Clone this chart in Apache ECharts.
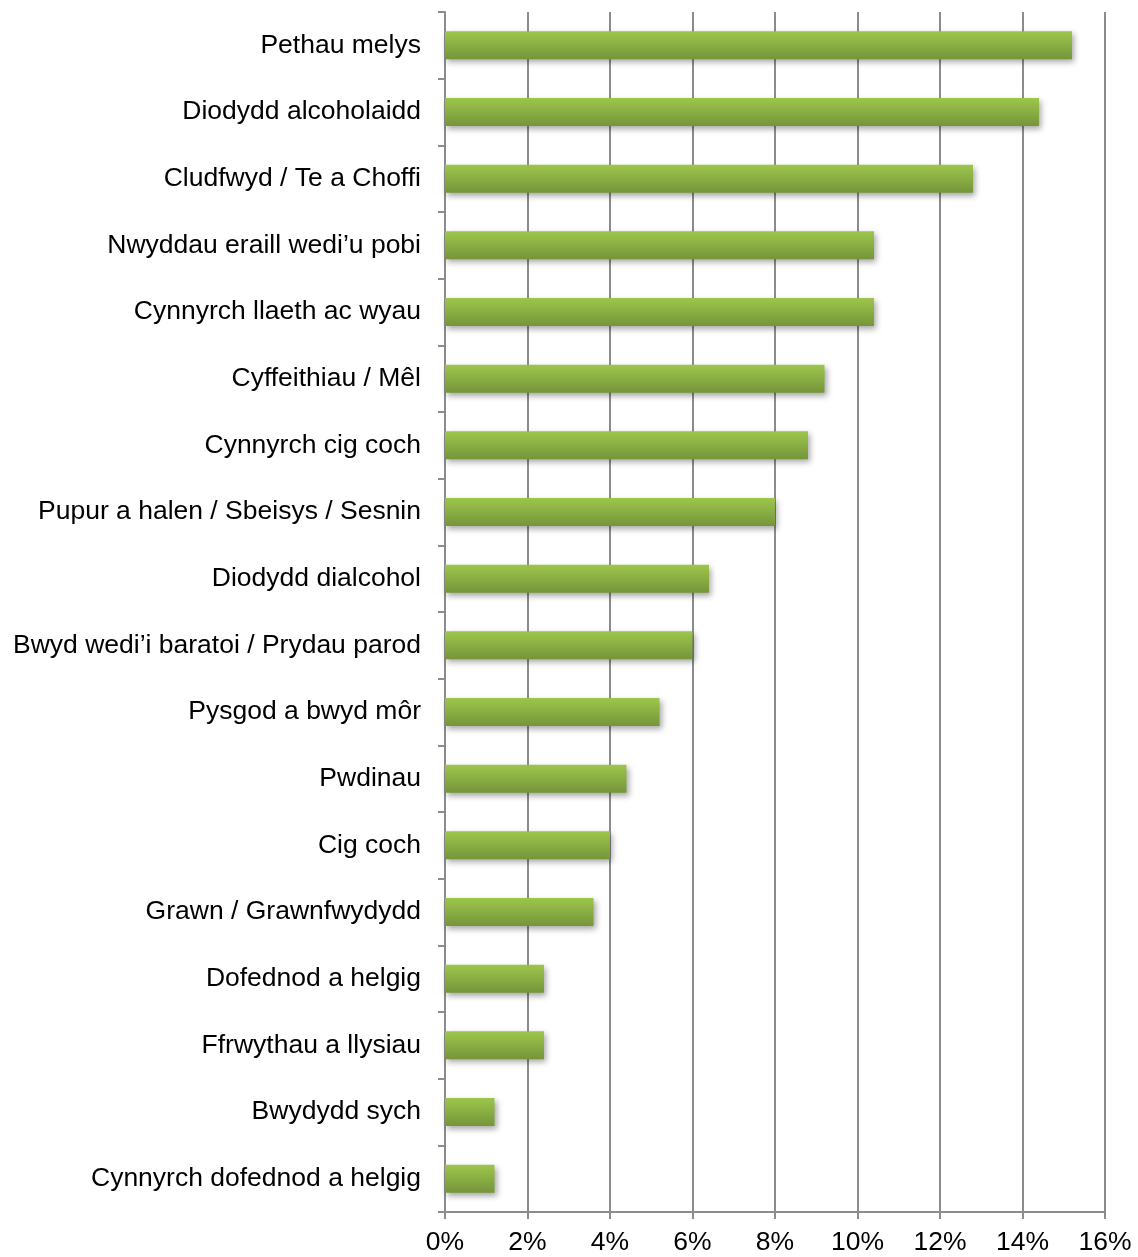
<!DOCTYPE html>
<html><head><meta charset="utf-8">
<script src="https://cdn.jsdelivr.net/npm/echarts@6/dist/echarts.min.js"></script>
<style>html,body{margin:0;padding:0;background:#fff}#c{width:1138px;height:1257px}</style>
</head><body><div id="c"></div>
<script>
const categories = [
  "Pethau melys",
  "Diodydd alcoholaidd",
  "Cludfwyd / Te a Choffi",
  "Nwyddau eraill wedi\u2019u pobi",
  "Cynnyrch llaeth ac wyau",
  "Cyffeithiau / M\u00eal",
  "Cynnyrch cig coch",
  "Pupur a halen / Sbeisys / Sesnin",
  "Diodydd dialcohol",
  "Bwyd wedi\u2019i baratoi / Prydau parod",
  "Pysgod a bwyd m\u00f4r",
  "Pwdinau",
  "Cig coch",
  "Grawn / Grawnfwydydd",
  "Dofednod a helgig",
  "Ffrwythau a llysiau",
  "Bwydydd sych",
  "Cynnyrch dofednod a helgig"
];
const values = [15.2, 14.4, 12.8, 10.4, 10.4, 9.2, 8.8, 8.0, 6.4, 6.0, 5.2, 4.4, 4.0, 3.6, 2.4, 2.4, 1.2, 1.2];
const xTicks = [0, 2, 4, 6, 8, 10, 12, 14, 16];

const chart = echarts.init(document.getElementById('c'));
chart.setOption({
  animation: false,
  grid: { left: 445, right: 33, top: 12, bottom: 45, containLabel: false },
  xAxis: {
    type: 'value', min: xTicks[0], max: xTicks[xTicks.length - 1], interval: 2,
    axisLine: { show: true, lineStyle: { color: '#8c8c8c', width: 2 } },
    axisTick: { show: true, length: 7, lineStyle: { color: '#8c8c8c', width: 2 } },
    splitLine: { show: true, lineStyle: { color: '#8c8c8c', width: 2 } },
    axisLabel: { formatter: '{value}%', color: '#000', fontFamily: 'Liberation Sans', fontSize: 26.5, margin: 17 }
  },
  yAxis: {
    type: 'category', data: categories, inverse: true,
    axisLine: { show: true, lineStyle: { color: '#8c8c8c', width: 2 } },
    axisTick: { show: true, length: 7, alignWithLabel: false, lineStyle: { color: '#8c8c8c', width: 2 } },
    axisLabel: { color: '#000', fontFamily: 'Liberation Sans', fontSize: 26.5, margin: 24 }
  },
  series: [{
    type: 'bar', data: values, barWidth: 28,
    itemStyle: {
      color: new echarts.graphic.LinearGradient(0, 0, 0, 1, [
        { offset: 0, color: '#9dc64c' },
        { offset: 1, color: '#76953a' }
      ]),
      shadowColor: 'rgba(0,0,0,0.35)', shadowBlur: 6, shadowOffsetX: 2, shadowOffsetY: 3
    }
  }]
});
</script></body></html>
